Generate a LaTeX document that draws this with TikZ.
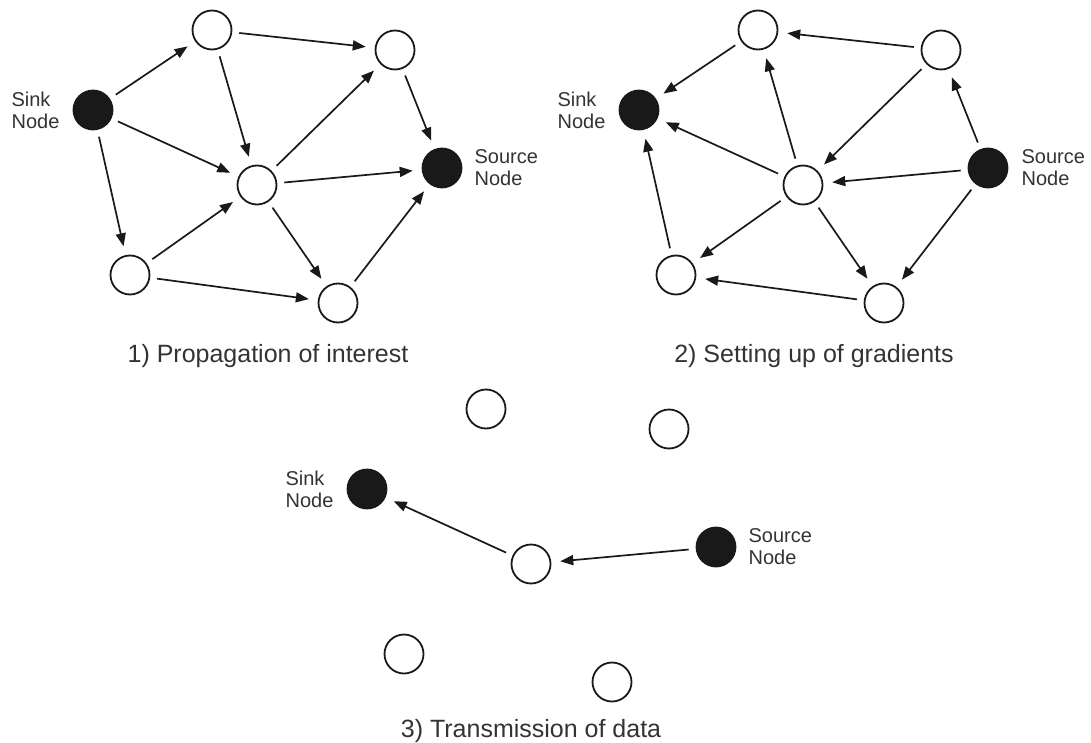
\documentclass[tikz,border=0pt]{standalone}
\usepackage{fontspec}
\setmainfont{Liberation Sans}
\usetikzlibrary{arrows.meta}
\tikzset{
  wnode/.style={circle, draw=black!90, line width=1.8pt, minimum size=39pt, inner sep=0pt, fill=white},
  bnode/.style={wnode, fill=black!90},
  conn/.style={-{Triangle[length=13pt,width=10pt]}, draw=black!90, line width=1.7pt, shorten <=7pt, shorten >=9pt},
  lbl/.style={inner sep=0pt, align=left, font=\fontsize{20}{22}\selectfont, text=black!80},
  captxt/.style={inner sep=0pt, anchor=base, font=\fontsize{25}{30}\selectfont, text=black!80}
}
\begin{document}
\begin{tikzpicture}[x=1pt,y=-1pt]
\useasboundingbox (0,0) rectangle (1091,743);
% ---------- Diagram 1 ----------
\begin{scope}
  \node[wnode] (aTL) at (212,30) {};
  \node[wnode] (aTR) at (395,50) {};
  \node[bnode] (aS)  at (93,110) {};
  \node[wnode] (aC)  at (257,185) {};
  \node[bnode] (aR)  at (442,168) {};
  \node[wnode] (aBL) at (130,275) {};
  \node[wnode] (aBR) at (338,303) {};
  \node[lbl, anchor=east] (aSl) at ([xshift=-13pt]aS.west) {Sink\\Node};
  \node[lbl, anchor=west] (aRl) at ([xshift=12pt]aR.east) {Source\\Node};
  \draw[conn] (aS) -- (aTL);
  \draw[conn] (aTL) -- (aTR);
  \draw[conn] (aTL) -- (aC);
  \draw[conn] (aS) -- (aC);
  \draw[conn] (aS) -- (aBL);
  \draw[conn] (aTR) -- (aR);
  \draw[conn] (aC) -- (aTR);
  \draw[conn] (aC) -- (aR);
  \draw[conn] (aBL) -- (aC);
  \draw[conn] (aBL) -- (aBR);
  \draw[conn] (aC) -- (aBR);
  \draw[conn] (aBR) -- (aR);
\end{scope}
\node[captxt] (acap) at (268,362) {1) Propagation of interest};
% ---------- Diagram 2 ----------
\begin{scope}[shift={(546,0)}]
  \node[wnode] (bTL) at (212,30) {};
  \node[wnode] (bTR) at (395,50) {};
  \node[bnode] (bS)  at (93,110) {};
  \node[wnode] (bC)  at (257,185) {};
  \node[bnode] (bR)  at (442,168) {};
  \node[wnode] (bBL) at (130,275) {};
  \node[wnode] (bBR) at (338,303) {};
  \node[lbl, anchor=east] (bSl) at ([xshift=-13pt]bS.west) {Sink\\Node};
  \node[lbl, anchor=west] (bRl) at ([xshift=13pt]bR.east) {Source\\Node};
  \draw[conn] (bTR) -- (bTL);
  \draw[conn] (bTL) -- (bS);
  \draw[conn] (bC) -- (bTL);
  \draw[conn] (bTR) -- (bC);
  \draw[conn] (bR) -- (bTR);
  \draw[conn] (bR) -- (bC);
  \draw[conn] (bC) -- (bS);
  \draw[conn] (bBL) -- (bS);
  \draw[conn] (bC) -- (bBL);
  \draw[conn] (bC) -- (bBR);
  \draw[conn] (bR) -- (bBR);
  \draw[conn] (bBR) -- (bBL);
\end{scope}
\node[captxt] (bcap) at (814,362) {2) Setting up of gradients};
% ---------- Diagram 3 ----------
\begin{scope}[shift={(274,379)}]
  \node[wnode] (cTL) at (212,30) {};
  \node[wnode] (cTR) at (395,50) {};
  \node[bnode] (cS)  at (93,110) {};
  \node[wnode] (cC)  at (257,185) {};
  \node[bnode] (cR)  at (442,168) {};
  \node[wnode] (cBL) at (130,275) {};
  \node[wnode] (cBR) at (338,303) {};
  \node[lbl, anchor=east] (cSl) at ([xshift=-13pt]cS.west) {Sink\\Node};
  \node[lbl, anchor=west] (cRl) at ([xshift=12pt]cR.east) {Source\\Node};
  \draw[conn] (cR) -- (cC);
  \draw[conn] (cC) -- (cS);
\end{scope}
\node[captxt] (ccap) at (531,737) {3) Transmission of data};
\end{tikzpicture}
\end{document}
